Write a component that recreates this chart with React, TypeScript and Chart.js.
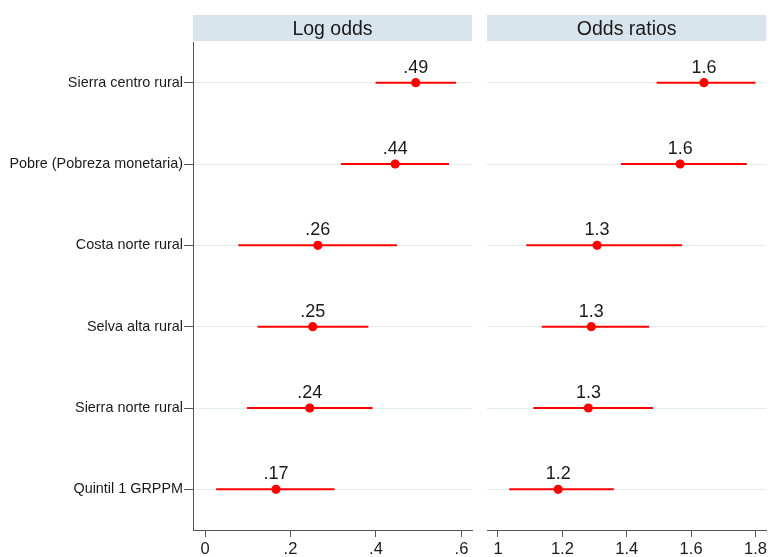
import React, { useEffect, useRef } from "react";
import { Chart, registerables } from "chart.js";
Chart.register(...registerables);

const categories = [
  "Sierra centro rural",
  "Pobre (Pobreza monetaria)",
  "Costa norte rural",
  "Selva alta rural",
  "Sierra norte rural",
  "Quintil 1 GRPPM",
];
const logOdds = [0.493, 0.445, 0.264, 0.252, 0.245, 0.166];
const logLow = [0.399, 0.318, 0.078, 0.123, 0.098, 0.026];
const logHigh = [0.587, 0.571, 0.449, 0.382, 0.392, 0.303];
const logLabels = [".49", ".44", ".26", ".25", ".24", ".17"];
const oddsRatios = [1.64, 1.566, 1.308, 1.29, 1.281, 1.187];
const orLow = [1.493, 1.382, 1.088, 1.136, 1.11, 1.035];
const orHigh = [1.8, 1.773, 1.572, 1.47, 1.482, 1.36];
const orLabels = ["1.6", "1.6", "1.3", "1.3", "1.3", "1.2"];
const logTicks = [0, 0.2, 0.4, 0.6];
const logTickLabels = ["0", ".2", ".4", ".6"];
const orTicks = [1, 1.2, 1.4, 1.6, 1.8];
const orTickLabels = ["1", "1.2", "1.4", "1.6", "1.8"];

const FONT = "'Liberation Sans', Arial, sans-serif";
const RED = "#ff0000";
const TEXT = "#1a1a1a";
const HEADER_BG = "#d8e5ec";

type Panel = {
  title: string;
  values: number[];
  low: number[];
  high: number[];
  labels: string[];
  ticks: number[];
  tickLabels: string[];
  min: number;
  max: number;
  showY: boolean;
  padRight: number;
};

function makeChart(canvas: HTMLCanvasElement, p: Panel) {
  const datasets: any[] = categories.map((_, i) => ({
    data: [
      { x: p.low[i], y: i + 1 },
      { x: p.high[i], y: i + 1 },
    ],
    showLine: true,
    borderColor: RED,
    borderWidth: 2,
    pointRadius: 0,
    order: 2,
  }));
  datasets.push({
    data: p.values.map((v, i) => ({ x: v, y: i + 1 })),
    pointRadius: 4.6,
    pointBackgroundColor: RED,
    pointBorderWidth: 0,
    showLine: false,
    order: 0,
  });

  const overlay = {
    id: "overlay",
    afterDatasetsDraw(chart: any) {
      const { ctx, chartArea, scales } = chart;
      ctx.save();
      ctx.fillStyle = HEADER_BG;
      ctx.fillRect(chartArea.left, 15, chartArea.right - chartArea.left, 26);
      ctx.fillStyle = TEXT;
      ctx.font = `19.5px ${FONT}`;
      ctx.textAlign = "center";
      ctx.textBaseline = "alphabetic";
      ctx.fillText(p.title, (chartArea.left + chartArea.right) / 2, 35);
      ctx.font = `18px ${FONT}`;
      p.values.forEach((v, i) => {
        const x = scales.x.getPixelForValue(v);
        const y = scales.y.getPixelForValue(i + 1);
        ctx.fillText(p.labels[i], x, y - 10);
      });
      ctx.restore();
    },
  };

  return new Chart(canvas, {
    type: "scatter",
    data: { datasets },
    options: {
      animation: false,
      responsive: false,
      layout: { padding: { top: 42, right: p.padRight, left: 0, bottom: 0 } },
      plugins: { legend: { display: false }, tooltip: { enabled: false } },
      scales: {
        x: {
          type: "linear",
          min: p.min,
          max: p.max,
          afterBuildTicks: (s: any) => {
            s.ticks = p.ticks.map((v) => ({ value: v }));
          },
          afterFit: (s: any) => {
            s.height = 27;
          },
          ticks: {
            callback: (_v: any, i: number) => p.tickLabels[i],
            font: { family: FONT, size: 16.5 },
            color: TEXT,
            padding: 3,
            maxRotation: 0,
            autoSkip: false,
          },
          grid: {
            drawOnChartArea: false,
            drawTicks: true,
            tickLength: 7,
            tickColor: "#555",
          },
          border: { display: true, color: "#555", width: 1 },
        },
        y: {
          type: "linear",
          reverse: true,
          min: 0.5,
          max: 6.5,
          afterBuildTicks: (s: any) => {
            s.ticks = categories.map((_, i) => ({ value: i + 1 }));
          },
          afterFit: (s: any) => {
            s.width = p.showY ? 193 : 7;
          },
          ticks: {
            display: p.showY,
            callback: (_v: any, i: number) => categories[i],
            font: { family: FONT, size: 14.4 },
            color: TEXT,
            padding: 1,
            autoSkip: false,
          },
          grid: {
            color: "#e2ecf0",
            lineWidth: 1,
            drawTicks: p.showY,
            tickLength: 9,
            tickColor: "#555",
          },
          border: { display: p.showY, color: "#555", width: 1 },
        },
      },
    },
    plugins: [overlay],
  } as any);
}

export default function App() {
  const leftRef = useRef<HTMLCanvasElement>(null);
  const rightRef = useRef<HTMLCanvasElement>(null);

  useEffect(() => {
    const c1 = makeChart(leftRef.current!, {
      title: "Log odds",
      values: logOdds,
      low: logLow,
      high: logHigh,
      labels: logLabels,
      ticks: logTicks,
      tickLabels: logTickLabels,
      min: -0.0281,
      max: 0.6246,
      showY: true,
      padRight: 8,
    });
    const c2 = makeChart(rightRef.current!, {
      title: "Odds ratios",
      values: oddsRatios,
      low: orLow,
      high: orHigh,
      labels: orLabels,
      ticks: orTicks,
      tickLabels: orTickLabels,
      min: 0.9659,
      max: 1.834,
      showY: false,
      padRight: 4,
    });
    return () => {
      c1.destroy();
      c2.destroy();
    };
  }, []);

  return (
    <div
      style={{
        position: "fixed",
        left: 0,
        top: 0,
        width: 771,
        height: 557,
        background: "#ffffff",
      }}
    >
      <canvas
        ref={leftRef}
        width={480}
        height={557}
        style={{ position: "absolute", left: 0, top: 0, width: 480, height: 557 }}
      />
      <canvas
        ref={rightRef}
        width={291}
        height={557}
        style={{ position: "absolute", left: 480, top: 0, width: 291, height: 557 }}
      />
    </div>
  );
}
